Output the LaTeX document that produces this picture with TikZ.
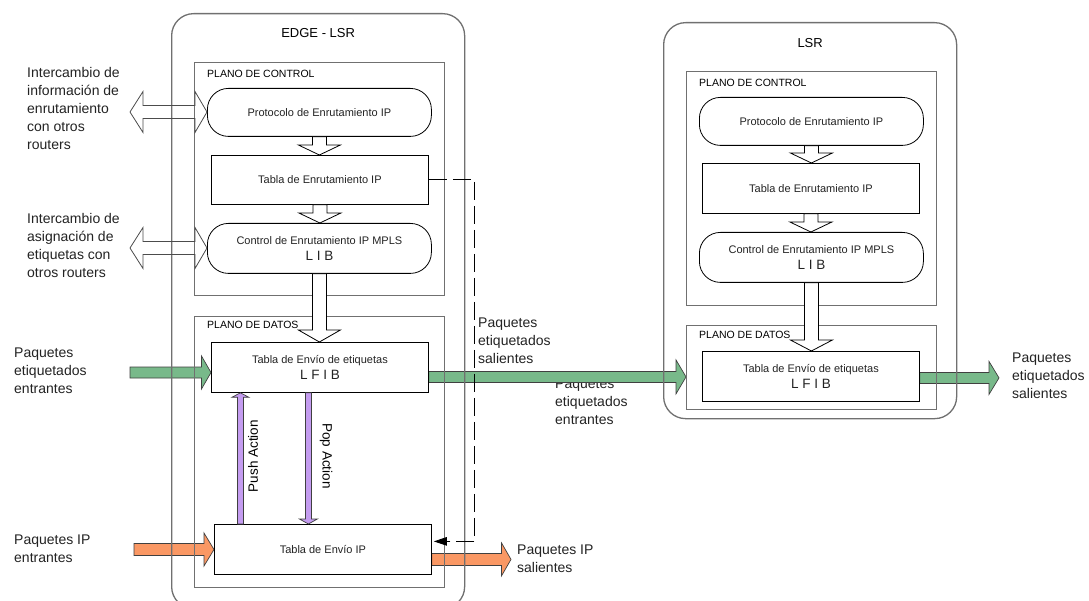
\documentclass[tikz,border=0pt]{standalone}
\usepackage{fontspec}
\setmainfont{Liberation Sans}
\usetikzlibrary{arrows.meta,calc}
\pgfdeclarelayer{bg}
\pgfsetlayers{bg,main}

\definecolor{framegray}{RGB}{112,112,112}
\definecolor{pktgreen}{RGB}{120,185,138}
\definecolor{pktorange}{RGB}{250,152,100}
\definecolor{actpurple}{RGB}{196,156,240}
\definecolor{inktext}{RGB}{35,35,35}

\tikzset{
  outerbox/.style={draw=framegray, line width=1.3pt, rounded corners=22pt, inner sep=0pt, anchor=north west},
  planebox/.style={draw=framegray, line width=1.3pt, inner sep=0pt, anchor=north west},
  unitbox/.style={draw=black, line width=0.8pt, fill=white, inner sep=0pt, anchor=north west,
    align=center, text=inktext, font=\fontsize{11}{16}\selectfont},
  procbox/.style={unitbox, rounded corners=21pt},
  titletext/.style={text=black, font=\fontsize{13}{15}\selectfont},
  planetext/.style={anchor=base west, inner sep=0pt, text=black, font=\fontsize{10.5}{12}\selectfont},
  sidetext/.style={anchor=west, inner sep=0pt, align=left, text=inktext, font=\fontsize{14}{17.8}\selectfont},
  acttext/.style={inner sep=0pt, text=black, font=\fontsize{13.5}{15}\selectfont},
  whiteblock/.style={draw=black, line width=0.8pt, fill=white},
  greenblock/.style={draw=black!75, line width=0.7pt, fill=pktgreen},
  orangeblock/.style={draw=black!75, line width=0.7pt, fill=pktorange},
  purpleblock/.style={draw=black!75, line width=0.7pt, fill=actpurple},
  exchange/.style={draw=black!70, line width=0.8pt},
  feedback/.style={draw=black, line width=0.8pt, dash pattern=on 18pt off 6pt,
    -{Triangle[length=13pt,width=8.5pt]}}
}

% horizontal block arrow: start, end, half shaft, half head, signed head length
\newcommand{\pkthblock}[6][]{%
  \filldraw[#1] let \p1=(#2), \p2=(#3) in
    (\x1,\y1+#4) -- (\x2+#6,\y1+#4) -- (\x2+#6,\y1+#5) -- (\x2,\y1)
    -- (\x2+#6,\y1-#5) -- (\x2+#6,\y1-#4) -- (\x1,\y1-#4) -- cycle;}
% vertical block arrow: start, end, half shaft, half head, signed head length
\newcommand{\pktvblock}[6][]{%
  \filldraw[#1] let \p1=(#2), \p2=(#3) in
    (\x1-#4,\y1) -- (\x1-#4,\y2+#6) -- (\x1-#5,\y2+#6) -- (\x1,\y2)
    -- (\x1+#5,\y2+#6) -- (\x1+#4,\y2+#6) -- (\x1+#4,\y1) -- cycle;}
% two-headed outline arrow between a free end and a node
\newcommand{\pktexchange}[2]{%
  \draw[exchange] let \p1=(#1), \p2=(#2) in
    (\x1,\y1) -- (\x1+13pt,\y1+20.5pt) -- (\x1+13pt,\y1+6.5pt) -- (\x2-12pt,\y1+6.5pt)
    -- (\x2-12pt,\y1+20.5pt) -- (\x2,\y1) -- (\x2-12pt,\y1-20.5pt) -- (\x2-12pt,\y1-6.5pt)
    -- (\x1+13pt,\y1-6.5pt) -- (\x1+13pt,\y1-20.5pt) -- cycle;}

\begin{document}
\begin{tikzpicture}[x=1pt,y=-1pt]
\clip (0,0) rectangle (1089,601);

% ---------- EDGE-LSR ----------
\node[outerbox, minimum width=293pt, minimum height=595pt] (eOuter) at (171,13) {};
\node[titletext] (eTitle) at ($(eOuter.north)+(0,20)$) {EDGE - LSR};

\node[planebox, minimum width=250pt, minimum height=233pt] (eCtrl) at (194,62) {};
\node[planetext] (eCtrlLbl) at ($(eCtrl.north west)+(13,16)$) {PLANO DE CONTROL};
\node[procbox, minimum width=224pt, minimum height=48pt] (eProto) at (207,88) {Protocolo de Enrutamiento IP};
\node[unitbox, minimum width=217pt, minimum height=49pt] (eTabla) at (211,155) {Tabla de Enrutamiento IP};
\node[procbox, minimum width=224pt, minimum height=50pt] (eLIB) at (207,223)
  {Control de Enrutamiento IP MPLS\\{\fontsize{13.5}{16}\selectfont L I B}};

\node[planebox, minimum width=250pt, minimum height=271pt] (eData) at (194,316) {};
\node[planetext] (eDataLbl) at ($(eData.north west)+(13,13)$) {PLANO DE DATOS};
\node[unitbox, minimum width=217pt, minimum height=50pt] (eLFIB) at (211,342)
  {Tabla de Envío de etiquetas\\{\fontsize{13.5}{16}\selectfont L F I B}};
\node[unitbox, minimum width=217pt, minimum height=50pt] (eIP) at (214,524) {Tabla de Envío IP};

% ---------- LSR ----------
\node[outerbox, minimum width=293pt, minimum height=396pt] (lOuter) at (663,22) {};
\node[titletext] (lTitle) at ($(lOuter.north)+(0,21)$) {LSR};

\node[planebox, minimum width=250pt, minimum height=234pt] (lCtrl) at (686,71) {};
\node[planetext] (lCtrlLbl) at ($(lCtrl.north west)+(13,16)$) {PLANO DE CONTROL};
\node[procbox, minimum width=224pt, minimum height=48pt] (lProto) at (699,97) {Protocolo de Enrutamiento IP};
\node[unitbox, minimum width=217pt, minimum height=50pt] (lTabla) at (702,163) {Tabla de Enrutamiento IP};
\node[procbox, minimum width=224pt, minimum height=50pt] (lLIB) at (699,232)
  {Control de Enrutamiento IP MPLS\\{\fontsize{13.5}{16}\selectfont L I B}};

\node[planebox, minimum width=250pt, minimum height=84pt] (lData) at (686,325) {};
\node[planetext] (lDataLbl) at ($(lData.north west)+(13,13)$) {PLANO DE DATOS};
\node[unitbox, minimum width=217pt, minimum height=50pt] (lLFIB) at (702,351)
  {Tabla de Envío de etiquetas\\{\fontsize{13.5}{16}\selectfont L F I B}};

% ---------- free ends of the packet flows ----------
\coordinate (gIn) at (130,372.5);
\coordinate (gOut) at (999,377.5);
\coordinate (oIn) at (134,549.5);
\coordinate (oOut) at (511,559);
\coordinate (xRoute) at (130,112);
\coordinate (xLabel) at (130,248);

% ---------- side texts and packet flows (behind the frames) ----------
\begin{pgfonlayer}{bg}
  \fill[white] (0,0) rectangle (1089,601);
  \node[sidetext] (tRoute) at (27,108.5) {Intercambio de\\información de\\enrutamiento\\con otros\\routers};
  \node[sidetext] (tLabel) at (27,245.5) {Intercambio de\\asignación de\\etiquetas con\\otros routers};
  \node[sidetext] (tLblIn) at (14,371) {Paquetes\\etiquetados\\entrantes};
  \node[sidetext] (tIpIn) at (14,549) {Paquetes IP\\entrantes};
  \node[sidetext] (tLblOutE) at (478,341) {Paquetes\\etiquetados\\salientes};
  \node[sidetext] (tLblInL) at (555,402) {Paquetes\\etiquetados\\entrantes};
  \node[sidetext] (tIpOut) at (517,559) {Paquetes IP\\salientes};
  \node[sidetext] (tLblOutL) at (1012,376) {Paquetes\\etiquetados\\salientes};

  \pkthblock[greenblock]{gIn}{eLFIB.west}{5.5pt}{16.5pt}{-9.5pt}
  \pkthblock[greenblock]{$(eLFIB.east)+(0,9.5)$}{lData.west}{5.5pt}{17pt}{-10pt}
  \pkthblock[greenblock]{$(lLFIB.east)+(0,1.5)$}{gOut}{5.5pt}{16.5pt}{-10pt}
  \pkthblock[orangeblock]{oIn}{eIP.west}{6pt}{16.5pt}{-10pt}
  \pkthblock[orangeblock]{$(eIP.east)+(0,10)$}{oOut}{6pt}{16.5pt}{-9.5pt}
\end{pgfonlayer}

% ---------- control-plane flows ----------
\pktvblock[whiteblock]{eProto.south}{eTabla.north}{7pt}{21pt}{10pt}
\pktvblock[whiteblock]{eTabla.south}{eLIB.north}{7pt}{21pt}{10pt}
\pktvblock[whiteblock]{eLIB.south}{eLFIB.north}{7pt}{21pt}{12pt}
\pktvblock[whiteblock]{lProto.south}{lTabla.north}{7pt}{21pt}{10pt}
\pktvblock[whiteblock]{lTabla.south}{lLIB.north}{7pt}{21pt}{10pt}
\pktvblock[whiteblock]{lLIB.south}{lLFIB.north}{7pt}{21pt}{11pt}

% ---------- label push / pop ----------
\pktvblock[purpleblock]{$(eIP.north)+(-82.5,0)$}{eLFIB.south}{3pt}{8.5pt}{-4.5pt}
\pktvblock[purpleblock]{$(eLFIB.south)+(-11.5,0)$}{eIP.north}{3pt}{9pt}{5pt}
\node[acttext, rotate=90] (tPush) at (253,456) {Push Action};
\node[acttext, rotate=-90] (tPop) at (326,456) {Pop Action};

% ---------- routing table to IP forwarding ----------
\draw[feedback] (eTabla.east) -- ++(46,0) |- ($(eIP.east)+(2,-8)$);

% ---------- exchanges with other routers ----------
\pktexchange{xRoute}{eProto.west}
\pktexchange{xLabel}{eLIB.west}
\end{tikzpicture}
\end{document}
